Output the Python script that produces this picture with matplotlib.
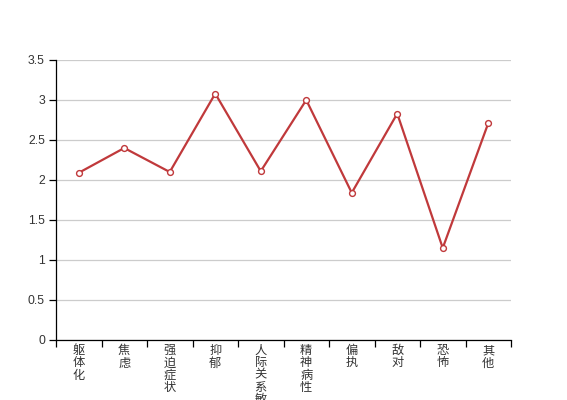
import matplotlib
matplotlib.use("Agg")
import matplotlib.pyplot as plt
from matplotlib.ticker import FixedLocator, NullFormatter
import numpy as np

plt.rcParams['font.family'] = ['Noto Sans CJK SC', 'DejaVu Sans']

categories = ["躯体化", "焦虑", "强迫症状", "抑郁", "人际关系敏感", "精神病性", "偏执", "敌对", "恐怖", "其他"]
values = [2.09, 2.40, 2.10, 3.08, 2.11, 3.00, 1.84, 2.83, 1.15, 2.71]
yticks = [0, 0.5, 1, 1.5, 2, 2.5, 3, 3.5]
ytick_labels = ["0", "0.5", "1", "1.5", "2", "2.5", "3", "3.5"]

fig = plt.figure(figsize=(5.67, 4.0), dpi=100)
ax = fig.add_axes([56/567, 60/400, (511-56)/567, 280/400])

x = np.arange(len(categories))
ax.plot(x, values, color="#c0393b", lw=1.6, marker="o", ms=4.2,
        mfc="white", mec="#c0393b", mew=1.0, zorder=3, clip_on=False)

ax.set_xlim(-0.5, len(categories) - 0.5)
ax.set_ylim(0, 3.5)
ax.set_yticks(yticks)
ax.set_yticklabels(ytick_labels, fontfamily="Liberation Sans", fontsize=8.8, color="#333333")
ax.yaxis.grid(True, color="#cccccc", lw=0.9)
ax.set_axisbelow(True)

ax.set_xticks(x)
ax.set_xticklabels(["\n".join(c) for c in categories], fontsize=8.8, color="#333333",
                   va="top", linespacing=0.92)
ax.tick_params(axis="x", which="major", length=0, pad=3)
ax.xaxis.set_minor_locator(FixedLocator(np.arange(-0.5, len(categories), 1.0)))
ax.xaxis.set_minor_formatter(NullFormatter())
ax.tick_params(axis="x", which="minor", length=5, width=0.9, color="#000000")
ax.tick_params(axis="y", length=5, width=0.9, color="#000000", pad=3)

for s in ["top", "right"]:
    ax.spines[s].set_visible(False)
for s in ["left", "bottom"]:
    ax.spines[s].set_color("#000000")
    ax.spines[s].set_linewidth(0.9)

fig.savefig("out.png", dpi=100)
